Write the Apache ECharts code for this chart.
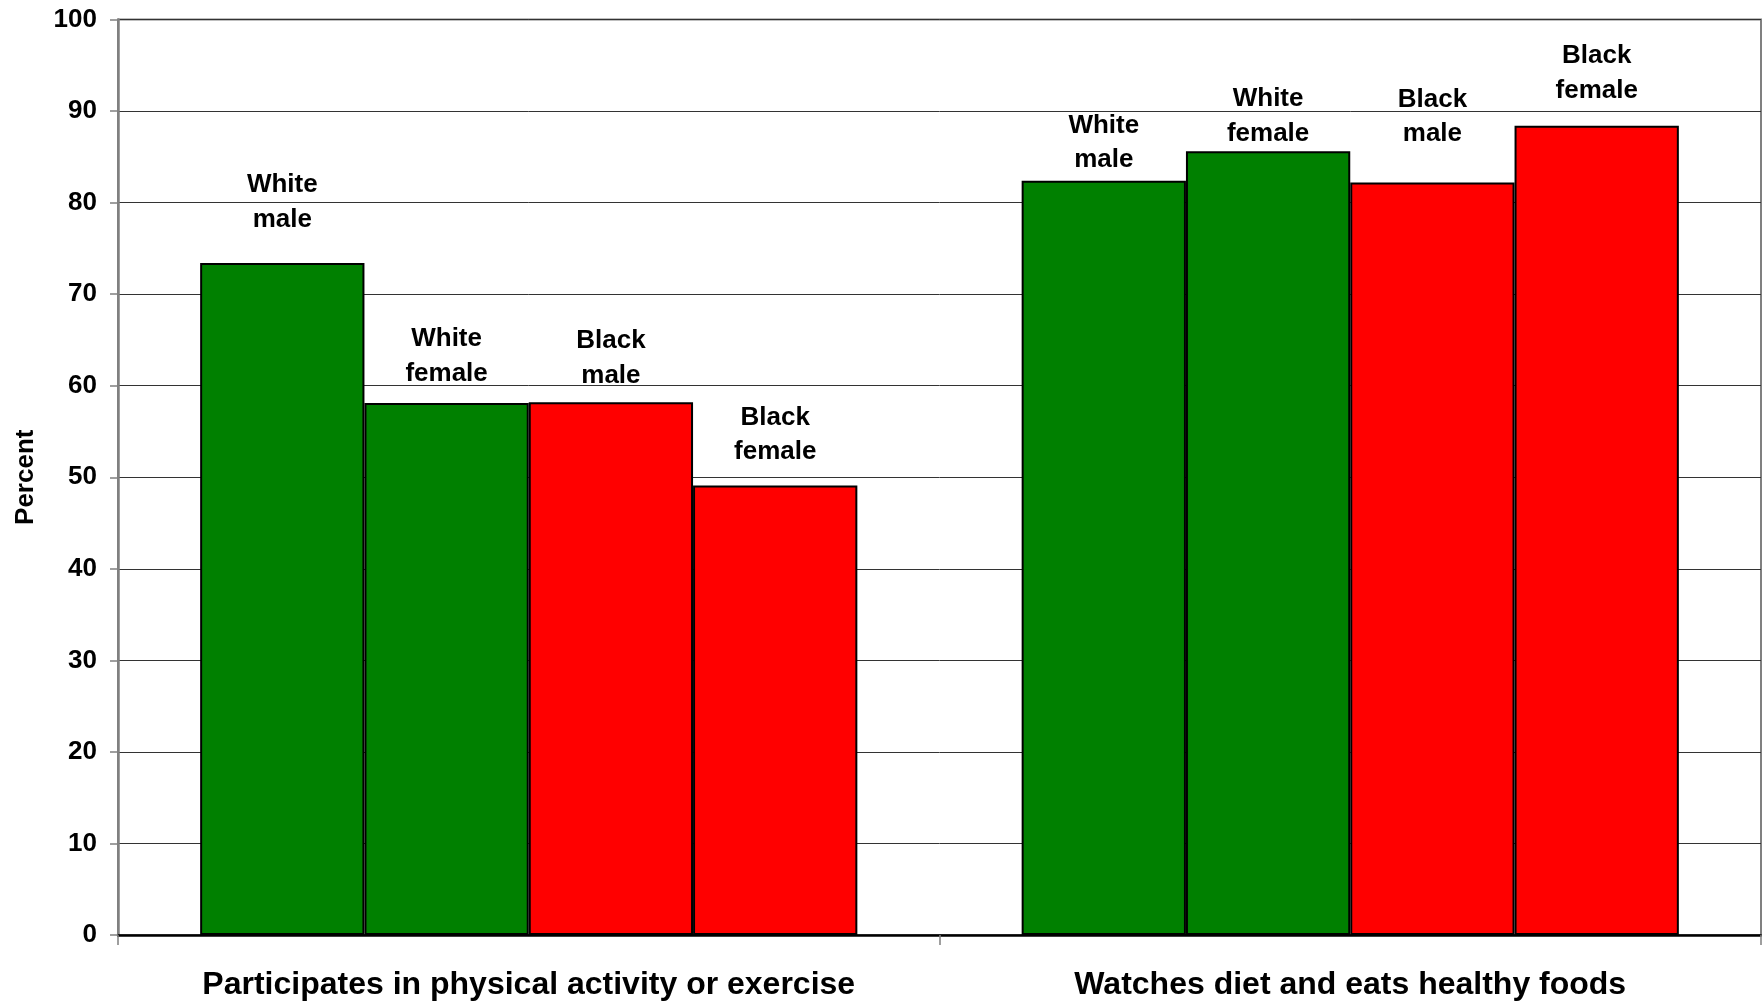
<!DOCTYPE html>
<html>
<head>
<meta charset="utf-8">
<script src="https://cdn.jsdelivr.net/npm/echarts@6/dist/echarts.min.js"></script>
<style>
  html, body { margin: 0; padding: 0; background: #fff; }
  #chart { width: 1762px; height: 1003px; }
</style>
</head>
<body>
<div id="chart"></div>
<script>
// data
const categories = ['Participates in physical activity or exercise', 'Watches diet and eats healthy foods'];
const seriesNames = ['White male', 'White female', 'Black male', 'Black female'];
const whiteMale = [73.4, 82.4];
const whiteFemale = [58.1, 85.6];
const blackMale = [58.2, 82.2];
const blackFemale = [49.1, 88.4];
const yMin = 0;
const yMax = 100;
const yStep = 10;

// styling (label gap above each bar, in px)
const FONT = '"Liberation Sans", Arial, sans-serif';
const COLORS = ['#008000', '#008000', '#ff0000', '#ff0000'];
const LABEL_GAPS = [
  [26, 3],
  [12, 0],
  [9, 31],
  [16, 18]
];

const values = [whiteMale, whiteFemale, blackMale, blackFemale];

const series = seriesNames.map((name, i) => ({
  name: name,
  type: 'bar',
  barGap: '0%',
  barCategoryGap: '20%',
  itemStyle: {
    color: COLORS[i],
    borderColor: '#000',
    borderWidth: 2
  },
  data: values[i].map((v, j) => ({
    value: v,
    label: { distance: LABEL_GAPS[i][j] }
  })),
  label: {
    show: true,
    position: 'top',
    formatter: (p) => p.seriesName.replace(' ', '\n'),
    fontFamily: FONT,
    fontWeight: 'bold',
    fontSize: 26,
    lineHeight: 34.7,
    color: '#000'
  }
}));

const chart = echarts.init(document.getElementById('chart'), null, { renderer: 'canvas' });
chart.setOption({
  animation: false,
  grid: {
    left: 118,
    right: 1,
    top: 19.5,
    bottom: 68,
    show: true,
    borderColor: '#808080',
    borderWidth: 2,
    containLabel: false,
    outerBoundsMode: 'none'
  },
  xAxis: {
    type: 'category',
    data: categories,
    axisLine: { lineStyle: { color: '#000', width: 2.5 } },
    axisTick: { show: true, length: 10, lineStyle: { color: '#808080', width: 1.5 } },
    axisLabel: {
      interval: 0,
      hideOverlap: false,
      fontFamily: FONT,
      fontWeight: 'bold',
      fontSize: 32,
      color: '#000',
      margin: 34
    }
  },
  yAxis: {
    type: 'value',
    min: yMin,
    max: yMax,
    interval: yStep,
    name: 'Percent',
    nameLocation: 'middle',
    nameGap: 79,
    nameTextStyle: {
      fontFamily: FONT,
      fontWeight: 'bold',
      fontSize: 26,
      color: '#000'
    },
    axisLine: { show: true, lineStyle: { color: '#808080', width: 2.5 } },
    axisTick: { show: true, length: 8, lineStyle: { color: '#808080', width: 1.5 } },
    axisLabel: {
      fontFamily: FONT,
      fontWeight: 'bold',
      fontSize: 26,
      color: '#000',
      margin: 21
    },
    splitLine: { lineStyle: { color: '#333', width: 1 } }
  },
  series: series
});
</script>
</body>
</html>
